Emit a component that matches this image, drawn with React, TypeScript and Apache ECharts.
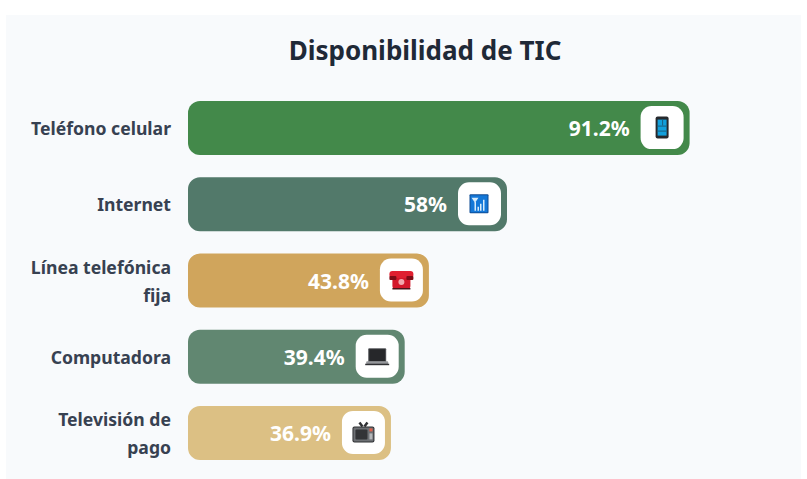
import React, { useEffect, useRef } from "react";
import * as echarts from "echarts";

const categories = ["Teléfono celular", "Internet", "Línea telefónica\nfija", "Computadora", "Televisión de\npago"];
const values = [91.2, 58, 43.8, 39.4, 36.9];
const valueLabels = ["91.2%", "58%", "43.8%", "39.4%", "36.9%"];
const barColors = ["#43894a", "#52796a", "#d0a55c", "#618771", "#dcc084"];
const iconNames = ["phone", "signal", "telephone", "laptop", "tv"];

function rect(x: number, y: number, w: number, h: number, fill: string, r = 0) {
  return { type: "rect", shape: { x, y, width: w, height: h, r }, style: { fill } };
}

function icon(name: string, cx: number, cy: number): any[] {
  if (name === "phone") {
    return [
      rect(cx - 6.5, cy - 11, 13, 22, "#26292d", 2),
      rect(cx - 4.5, cy - 8, 9, 16, "#12a0dc"),
      rect(cx - 4.5, cy - 2, 9, 1, "#1b5f80"),
      rect(cx - 4.5, cy + 3, 9, 1, "#1b5f80"),
      rect(cx, cy - 8, 1, 6, "#1b5f80"),
    ];
  }
  if (name === "signal") {
    return [
      rect(cx - 10, cy - 9.5, 19, 19, "#0f4c94", 1),
      rect(cx - 9, cy - 8.5, 17, 17, "#1478d8"),
      { type: "polygon", shape: { points: [[cx - 8, cy - 6], [cx - 1, cy - 6], [cx - 4.5, cy - 1]] }, style: { fill: "#d7ecfb" } },
      rect(cx - 5, cy - 2, 1.5, 9, "#d7ecfb"),
      rect(cx - 2, cy + 3, 1.5, 4, "#d7ecfb"),
      rect(cx + 0.5, cy + 0, 1.5, 7, "#d7ecfb"),
      rect(cx + 3.5, cy - 4, 1.5, 11, "#d7ecfb"),
    ];
  }
  if (name === "telephone") {
    return [
      rect(cx - 9, cy - 3, 18, 12, "#d3172a", 3),
      rect(cx - 12, cy - 9, 24, 7, "#e01f30", 3),
      rect(cx - 12, cy - 4, 7, 4, "#7e0c16", 1),
      rect(cx + 5, cy - 4, 7, 4, "#7e0c16", 1),
      rect(cx - 3, cy - 1, 6, 6, "#f2a7ad", 3),
      rect(cx - 9, cy + 8, 18, 1.5, "#4a1419"),
    ];
  }
  if (name === "laptop") {
    return [
      rect(cx - 9, cy - 8, 18, 14, "#55575b", 1),
      rect(cx - 8, cy - 7, 16, 12, "#26272a"),
      rect(cx - 11, cy + 5, 22, 3, "#96989c", 1),
      rect(cx - 12, cy + 7.5, 24, 1.5, "#2f3033"),
    ];
  }
  return [
    { type: "line", shape: { x1: cx - 4, y1: cy - 10, x2: cx - 1, y2: cy - 6 }, style: { stroke: "#2f3033", lineWidth: 2.5 } },
    { type: "line", shape: { x1: cx + 4, y1: cy - 10, x2: cx + 1, y2: cy - 6 }, style: { stroke: "#2f3033", lineWidth: 2.5 } },
    rect(cx - 11, cy - 6, 22, 16, "#2f3033", 2),
    rect(cx - 10, cy - 5, 20, 14, "#6d7074", 1),
    rect(cx - 8, cy - 3, 12, 10, "#333437", 1),
    rect(cx + 6, cy - 4, 3, 3, "#e2604a"),
    rect(cx + 6, cy + 1, 3, 6, "#b5b7ba"),
  ];
}

export default function App() {
  const ref = useRef<HTMLDivElement>(null);
  useEffect(() => {
    document.body.style.margin = "0";
    document.body.style.background = "#ffffff";
    const chart = echarts.init(ref.current!, null, { renderer: "svg" });
    chart.setOption({
      animation: false,
      backgroundColor: "#ffffff",
      textStyle: { fontFamily: "'Noto Sans', sans-serif" },
      graphic: [
        { type: "rect", z: -10, shape: { x: 6, y: 15, width: 795, height: 464 }, style: { fill: "#f8fafc" } },
      ],
      title: {
        text: "Disponibilidad de TIC",
        left: 420,
        top: 32,
        textAlign: "center",
        textStyle: { fontFamily: "'Noto Sans', sans-serif", fontSize: 26, fontWeight: 700, color: "#1f2937" },
      },
      grid: { left: 188, top: 90, width: 550, height: 381, containLabel: false },
      xAxis: { type: "value", min: 0, max: 100, show: false },
      yAxis: {
        type: "category",
        inverse: true,
        data: categories,
        axisLine: { show: false },
        axisTick: { show: false },
        splitLine: { show: false },
        axisLabel: {
          margin: 17,
          align: "right",
          lineHeight: 28,
          fontSize: 17.6,
          fontWeight: 700,
          color: "#374151",
          fontFamily: "'Noto Sans', sans-serif",
        },
      },
      series: [
        {
          type: "bar",
          data: values.map((v, i) => ({ value: v, itemStyle: { color: barColors[i] } })),
          barWidth: 54,
          itemStyle: { borderRadius: 12 },
          silent: true,
        },
        {
          type: "custom",
          silent: true,
          z: 5,
          encode: { x: 0, y: 1 },
          data: values.map((v, i) => [v, i]),
          renderItem: (params: any, api: any) => {
            const i = params.dataIndex;
            const p = api.coord([api.value(0), api.value(1)]);
            const boxR = p[0] - 6;
            const boxL = boxR - 43;
            const cx = (boxL + boxR) / 2;
            return {
              type: "group",
              children: [
                rect(boxL, p[1] - 22, 43, 43, "#ffffff", 11),
                ...icon(iconNames[i], cx, p[1] - 0.5),
                {
                  type: "text",
                  style: {
                    x: boxL - 11,
                    y: p[1],
                    text: valueLabels[i],
                    align: "right",
                    verticalAlign: "middle",
                    fill: "#ffffff",
                    font: "700 21px 'Noto Sans', sans-serif",
                  },
                },
              ],
            };
          },
        },
      ],
    });
    return () => chart.dispose();
  }, []);
  return <div ref={ref} style={{ width: 807, height: 479 }} />;
}
